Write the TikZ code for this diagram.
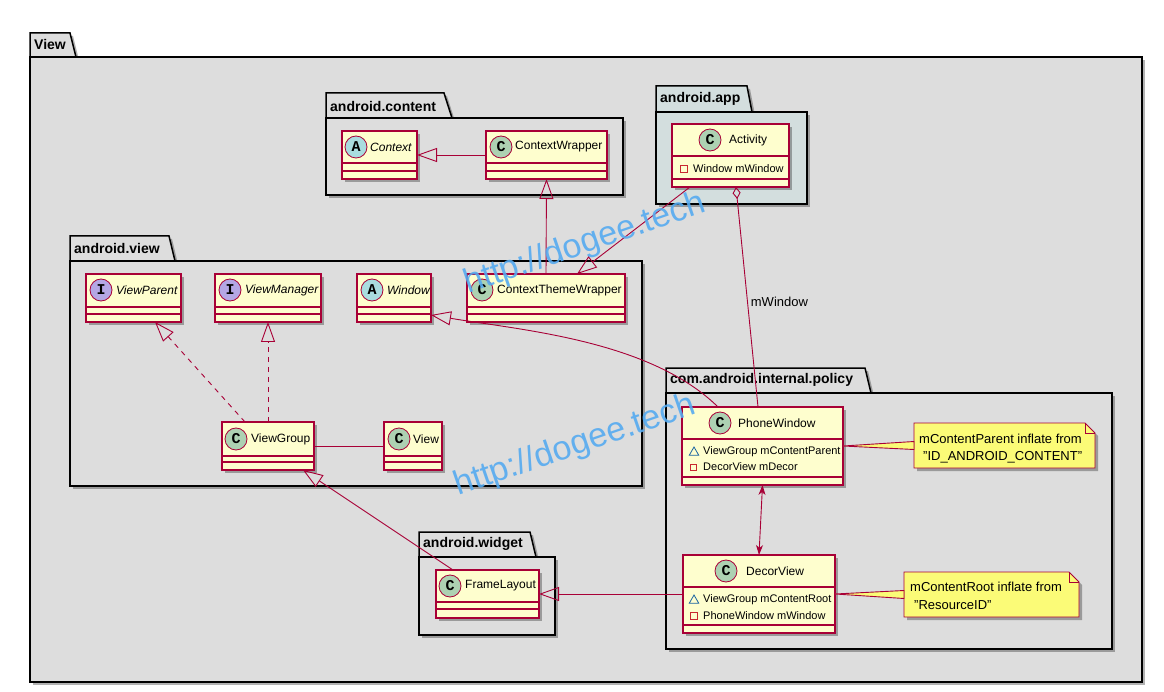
\documentclass[tikz,border=0pt]{standalone}
\usepackage{fontspec}
\setmainfont{Liberation Sans}
\setmonofont{Liberation Mono}
\usetikzlibrary{arrows.meta,shadows,shapes.geometric}
\definecolor{pkgfill}{HTML}{DDDDDD}
\definecolor{appfill}{HTML}{D3DEDE}
\definecolor{clsfill}{HTML}{FEFECE}
\definecolor{crimson}{HTML}{A80036}
\definecolor{cicon}{HTML}{ADD1B2}
\definecolor{aicon}{HTML}{A9DCDF}
\definecolor{iicon}{HTML}{B4A7E5}
\definecolor{notefill}{HTML}{FBFB77}
\definecolor{privred}{HTML}{C82930}
\definecolor{pkgblue}{HTML}{1963A0}
\definecolor{wmblue}{HTML}{55AAF0}
\begin{document}
\begin{tikzpicture}[x=1pt,y=-1pt]
    \tikzstyle{shade}=[drop shadow={shadow xshift=3pt,shadow yshift=-3pt,opacity=0.3,fill=black}]
    \tikzstyle{pkg}=[draw=black,line width=1.5pt,fill=pkgfill,shade]
    \tikzstyle{pkgname}=[anchor=west,inner sep=0pt,font=\bfseries\fontsize{14}{16}\selectfont]
    \tikzstyle{cls}=[draw=crimson,line width=1.2pt,fill=clsfill,anchor=north west,inner sep=0pt,outer sep=0pt,shade]
    \tikzstyle{sep}=[draw=crimson,line width=1.2pt]
    \tikzstyle{icon}=[circle,draw=crimson,line width=0.8pt,minimum size=22pt,inner sep=0pt,font=\ttfamily\bfseries\fontsize{15}{15}\selectfont]
    \tikzstyle{cname}=[anchor=west,inner sep=0pt,font=\fontsize{12}{14}\selectfont]
    \tikzstyle{aname}=[cname,font=\itshape\fontsize{12}{14}\selectfont]
    \tikzstyle{attr}=[anchor=west,inner sep=0pt,font=\fontsize{11}{13}\selectfont]
    \tikzstyle{privmark}=[draw=privred,line width=0.8pt,minimum size=6.5pt,inner sep=0pt]
    \tikzstyle{pkgmark}=[regular polygon,regular polygon sides=3,draw=pkgblue,line width=0.8pt,minimum size=11pt,inner sep=0pt]
    \tikzstyle{link}=[draw=crimson,line width=0.9pt]
    \tikzstyle{inherit}=[link,-{Triangle[open,length=20pt,width=14pt]}]
    \tikzstyle{realize}=[inherit,dash pattern=on 5pt off 5pt]
    \tikzstyle{notebox}=[anchor=north west,inner sep=0pt,outer sep=0pt]
    \tikzstyle{notepaper}=[draw=crimson,line width=0.9pt,fill=notefill,shade]
    \tikzstyle{notetext}=[anchor=west,inner sep=0pt,font=\fontsize{13}{15}\selectfont]
    \tikzstyle{wedge}=[draw=crimson,line width=0.9pt,fill=notefill]
    \tikzstyle{watermark}=[anchor=base west,inner sep=0pt,text=wmblue,opacity=0.9,rotate=19,font=\fontsize{34}{34}\selectfont]

    \fill[white] (0,0) rectangle (1164,692);
    \useasboundingbox (0,0) rectangle (1164,692);

    % packages
    \draw[pkg] (30,57) -- (30,33) -- (70,33) -- (76,57) -- cycle;
    \draw[pkg] (30,57) rectangle (1142,682);
    \node[pkgname] (pview) at (34,45) {View};

    \draw[pkg] (326,118) -- (326,93) -- (444,93) -- (452,118) -- cycle;
    \draw[pkg] (326,118) rectangle (623,195);
    \node[pkgname] (pcontent) at (330,106) {android.content};

    \draw[pkg,fill=appfill] (656,112) -- (656,86) -- (747,86) -- (752,112) -- cycle;
    \draw[pkg,fill=appfill] (656,112) rectangle (807,204);
    \node[pkgname] (papp) at (660,99) {android.app};

    \draw[pkg] (70,261) -- (70,236) -- (169,236) -- (175,261) -- cycle;
    \draw[pkg] (70,261) rectangle (642,486);
    \node[pkgname] (pviewpkg) at (74,248) {android.view};

    \draw[pkg] (666,393) -- (666,368) -- (865,368) -- (871,393) -- cycle;
    \draw[pkg] (666,393) rectangle (1112,649);
    \node[pkgname] (ppolicy) at (670,380) {com.android.internal.policy};

    \draw[pkg] (419,557) -- (419,532) -- (530,532) -- (536,557) -- cycle;
    \draw[pkg] (419,557) rectangle (555,635);
    \node[pkgname] (pwidget) at (423,544) {android.widget};

    % classes
    \foreach \n/\l/\t/\w/\h in {ctx/342/131/75/48, cw/486/131/121/48, act/672/124/117/63,
        vp/86/274/95/48, vm/215/274/106/48, win/357/274/74/48, ctw/467/274/158/48,
        vg/222/422/92/48, view/384/422/58/48, fl/436/570/103/48,
        pw/682/407/161/78, dv/683/555/152/78}
        \node[cls,minimum width=\w pt,minimum height=\h pt] (\n) at (\l,\t) {};
    \foreach \n/\a/\b in {ctx/32/40, cw/32/40, act/32/55, vp/33/40, vm/33/40, win/33/40,
        ctw/33/40, vg/34/40, view/34/40, fl/32/39, pw/32/70, dv/32/70}
        \draw[sep] ([yshift=-\a pt]\n.north west) -- ([yshift=-\a pt]\n.north east)
                   ([yshift=-\b pt]\n.north west) -- ([yshift=-\b pt]\n.north east);

    \node[icon,fill=aicon] (ctxi) at (356,147) {A};
    \node[aname] (ctxn) at (370,147) {Context};
    \node[icon,fill=cicon] (cwi) at (501,147) {C};
    \node[cname] (cwn) at (515,147) {ContextWrapper};
    \node[icon,fill=cicon] (acti) at (710,140) {C};
    \node[cname] (actn) at (729,140) {Activity};
    \node[privmark] (acta) at (684,169) {};
    \node[attr] (actt) at (693,169) {Window mWindow};

    \node[icon,fill=iicon] (vpi) at (101,290) {I};
    \node[aname] (vpn) at (116,290) {ViewParent};
    \node[icon,fill=iicon] (vmi) at (230,290) {I};
    \node[aname] (vmn) at (245,290) {ViewManager};
    \node[icon,fill=aicon] (wini) at (372,290) {A};
    \node[aname] (winn) at (387,290) {Window};
    \node[icon,fill=cicon] (ctwi) at (482,290) {C};
    \node[cname] (ctwn) at (497,290) {ContextThemeWrapper};
    \node[icon,fill=cicon] (vgi) at (236,439) {C};
    \node[cname] (vgn) at (251,439) {ViewGroup};
    \node[icon,fill=cicon] (viewi) at (399,439) {C};
    \node[cname] (viewn) at (413,439) {View};
    \node[icon,fill=cicon] (fli) at (450,586) {C};
    \node[cname] (fln) at (465,586) {FrameLayout};

    \node[icon,fill=cicon] (pwi) at (720,423) {C};
    \node[cname] (pwn) at (738,423) {PhoneWindow};
    \node[pkgmark] (pwa) at (694,452.5) {};
    \node[attr] (pwt) at (703,452) {ViewGroup mContentParent};
    \node[privmark] (pwb) at (693.5,467.5) {};
    \node[attr] (pwu) at (703,467) {DecorView mDecor};
    \node[icon,fill=cicon] (dvi) at (726,571) {C};
    \node[cname] (dvn) at (746,571) {DecorView};
    \node[pkgmark] (dva) at (694,600.5) {};
    \node[attr] (dvt) at (703,600) {ViewGroup mContentRoot};
    \node[privmark] (dvb) at (694,616) {};
    \node[attr] (dvu) at (703,616) {PhoneWindow mWindow};

    % relations
    \draw[inherit] (cw) -- (ctx);
    \draw[inherit] (ctw.north) -- (cw.south);
    \draw[inherit] ([xshift=18pt]act.south west) -- ([xshift=31pt]ctw.north);
    \draw[link,{Diamond[open,length=12pt,width=8pt]}-] ([xshift=5.5pt]act.south) --
        node[pos=0.52,anchor=west,inner sep=3pt,font=\fontsize{13}{15}\selectfont] {mWindow} ([xshift=-4.5pt]pw.north);
    \draw[inherit] ([xshift=-44.5pt]pw.north) .. controls (650,340) and (520,330) .. ([yshift=-17pt]win.east);
    \draw[realize] ([xshift=-23pt]vg.north) -- ([xshift=21.5pt]vp.south);
    \draw[realize] (vg.north) -- (vm.south);
    \draw[link] (vg) -- (view);
    \draw[inherit] ([xshift=-34.5pt]fl.north) -- ([xshift=35pt]vg.south);
    \draw[inherit] (dv) -- (fl);
    \draw[link,{Stealth[length=10pt,width=7pt,inset=3pt]}-{Stealth[length=10pt,width=7pt,inset=3pt]}] (pw.south) -- (dv.north);

    % notes
    \node[notebox,minimum width=181pt,minimum height=45pt] (note1) at (914,423) {};
    \draw[notepaper] (note1.north west) -- ([xshift=-10pt]note1.north east) -- ([yshift=-10pt]note1.north east)
        -- (note1.south east) -- (note1.south west) -- cycle;
    \draw[link] ([xshift=-10pt]note1.north east) -- ++(0,10) -- ++(10,0);
    \filldraw[wedge] (pw.east) -- ([yshift=4pt]note1.west) -- ([yshift=-4pt]note1.west) -- cycle;
    \node[notetext] (note1a) at (919,439) {mContentParent inflate from};
    \node[notetext] (note1b) at (923,457) {"ID\_ANDROID\_CONTENT"};

    \node[notebox,minimum width=175pt,minimum height=45pt] (note2) at (904,572) {};
    \draw[notepaper] (note2.north west) -- ([xshift=-10pt]note2.north east) -- ([yshift=-10pt]note2.north east)
        -- (note2.south east) -- (note2.south west) -- cycle;
    \draw[link] ([xshift=-10pt]note2.north east) -- ++(0,10) -- ++(10,0);
    \filldraw[wedge] (dv.east) -- ([yshift=4pt]note2.west) -- ([yshift=-4pt]note2.west) -- cycle;
    \node[notetext] (note2a) at (910,587) {mContentRoot inflate from};
    \node[notetext] (note2b) at (914,605) {"ResourceID"};

    % watermark
    \node[watermark] (wm1) at (468,294) {http://dogee.tech};
    \node[watermark] (wm2) at (458,496) {http://dogee.tech};
\end{tikzpicture}
\end{document}
